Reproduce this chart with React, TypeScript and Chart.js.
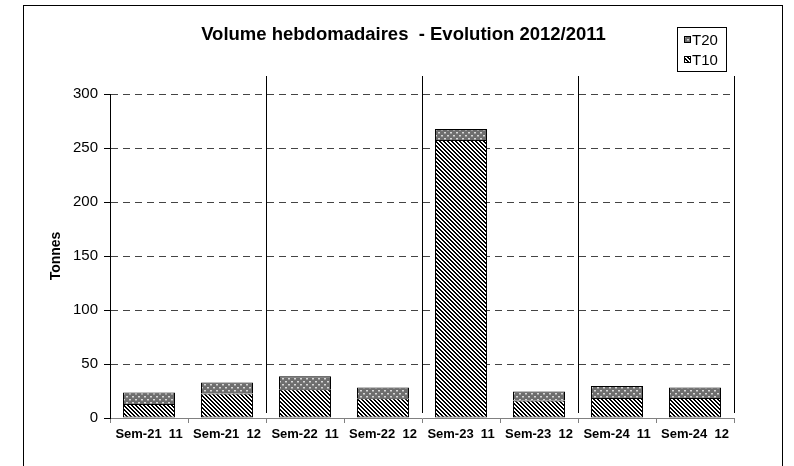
import React, { useEffect, useRef } from "react";
import { Chart, registerables } from "chart.js";

Chart.register(...registerables);

const categories = [
  "Sem-21  11",
  "Sem-21  12",
  "Sem-22  11",
  "Sem-22  12",
  "Sem-23  11",
  "Sem-23  12",
  "Sem-24  11",
  "Sem-24  12",
];
const t10Values = [13, 22.6, 26.6, 18.3, 257.4, 16.1, 18.6, 18.6];
const t20Values = [10.5, 10.2, 12, 9.9, 10.2, 8.4, 11.1, 9.6];
const yMin = 0;
const yMax = 300;
const yStep = 50;
const separatorBoundaries = [2, 4, 6, 8];
const titleText = "Volume hebdomadaires  - Evolution 2012/2011";
const yTitle = "Tonnes";

const FONT = '"Liberation Sans", Arial, Helvetica, sans-serif';

function makeHatch(ctx: CanvasRenderingContext2D): CanvasPattern {
  const c = document.createElement("canvas");
  c.width = 4;
  c.height = 4;
  const g = c.getContext("2d")!;
  g.fillStyle = "#ffffff";
  g.fillRect(0, 0, 4, 4);
  g.fillStyle = "#000000";
  for (let y = 0; y < 4; y++)
    for (let x = 0; x < 4; x++)
      if ((((x - y) % 4) + 4) % 4 < 2) g.fillRect(x, y, 1, 1);
  return ctx.createPattern(c, "repeat")!;
}

function makeDots(ctx: CanvasRenderingContext2D): CanvasPattern {
  const c = document.createElement("canvas");
  c.width = 6;
  c.height = 6;
  const g = c.getContext("2d")!;
  g.fillStyle = "#6e6e6e";
  g.fillRect(0, 0, 6, 6);
  g.fillStyle = "#d8d8d8";
  g.fillRect(1, 1, 2, 1);
  g.fillRect(4, 4, 2, 1);
  g.fillStyle = "#a0a0a0";
  g.fillRect(1, 2, 2, 1);
  g.fillRect(4, 5, 2, 1);
  return ctx.createPattern(c, "repeat")!;
}

const framePlugin = {
  id: "frame",
  beforeDraw(chart: any) {
    const ctx = chart.ctx as CanvasRenderingContext2D;
    ctx.save();
    ctx.fillStyle = "#ffffff";
    ctx.fillRect(0, 0, chart.width, chart.height);
    ctx.strokeStyle = "#000000";
    ctx.lineWidth = 1;
    ctx.strokeRect(0.5, 0.5, chart.width - 2, chart.height + 40);
    ctx.restore();
  },
};

const separatorPlugin = {
  id: "separators",
  afterDatasetsDraw(chart: any) {
    const xs = chart.scales.x;
    const { top, bottom } = chart.chartArea;
    const step = xs.getPixelForValue(1) - xs.getPixelForValue(0);
    const ctx = chart.ctx as CanvasRenderingContext2D;
    ctx.save();
    ctx.strokeStyle = "#000000";
    ctx.lineWidth = 1;
    separatorBoundaries.forEach((b) => {
      const x = Math.round(xs.getPixelForValue(b - 1) + step / 2) + 0.5;
      ctx.beginPath();
      ctx.moveTo(x, top - 18);
      ctx.lineTo(x, bottom - 5);
      ctx.stroke();
    });
    ctx.restore();
  },
};

const legendPlugin = {
  id: "boxLegend",
  afterDraw(chart: any) {
    const ctx = chart.ctx as CanvasRenderingContext2D;
    const x0 = 654;
    const y0 = 22;
    const w = 49;
    const h = 44;
    ctx.save();
    ctx.strokeStyle = "#000000";
    ctx.lineWidth = 1;
    ctx.fillStyle = "#ffffff";
    ctx.fillRect(x0, y0, w, h);
    ctx.strokeRect(x0 + 0.5, y0 + 0.5, w, h);
    const items = [...chart.data.datasets].reverse();
    items.forEach((ds: any, i: number) => {
      const cy = y0 + 13 + i * 20;
      ctx.fillStyle = ds.backgroundColor;
      ctx.fillRect(x0 + 7, cy - 4, 7, 7);
      ctx.strokeStyle = "#000000";
      ctx.strokeRect(x0 + 7.5, cy - 3.5, 6, 6);
      ctx.fillStyle = "#000000";
      ctx.font = `15px ${FONT}`;
      ctx.textBaseline = "middle";
      ctx.textAlign = "left";
      ctx.fillText(ds.label, x0 + 15, cy + 1);
    });
    ctx.restore();
  },
};

export default function App() {
  const ref = useRef<HTMLCanvasElement | null>(null);

  useEffect(() => {
    const canvas = ref.current!;
    const ctx = canvas.getContext("2d")!;
    const hatch = makeHatch(ctx);
    const dots = makeDots(ctx);

    const chart = new Chart(canvas, {
      type: "bar",
      data: {
        labels: categories,
        datasets: [
          {
            label: "T10",
            data: t10Values,
            backgroundColor: hatch as any,
            borderColor: "#000000",
            borderWidth: 1,
            borderSkipped: false,
            categoryPercentage: 1,
            barPercentage: 0.667,
          },
          {
            label: "T20",
            data: t20Values,
            backgroundColor: dots as any,
            borderColor: "#000000",
            borderWidth: 1,
            borderSkipped: "bottom",
            categoryPercentage: 1,
            barPercentage: 0.667,
          },
        ],
      },
      options: {
        responsive: false,
        animation: false,
        events: [],
        layout: { padding: { left: 0, right: 0, top: 0, bottom: 0 } },
        plugins: {
          legend: { display: false },
          tooltip: { enabled: false },
          title: {
            display: true,
            text: titleText,
            color: "#000000",
            font: { family: FONT, size: 18.5, weight: "bold" },
            padding: { top: 19, bottom: 47.8 },
          },
        },
        scales: {
          x: {
            stacked: true,
            grid: {
              display: true,
              offset: true,
              drawOnChartArea: false,
              drawTicks: true,
              tickLength: 5,
              tickColor: "#808080",
            },
            border: { display: true, color: "#808080", width: 1 },
            ticks: {
              color: "#000000",
              font: { family: FONT, size: 13, weight: "bold" },
              maxRotation: 0,
              minRotation: 0,
              autoSkip: false,
              padding: 4,
            },
            afterFit: (s: any) => {
              s.height = 48;
            },
          },
          y: {
            stacked: true,
            min: yMin,
            max: yMax,
            ticks: {
              stepSize: yStep,
              color: "#000000",
              font: { family: FONT, size: 15 },
              padding: 6,
            },
            grid: {
              color: (c: any) => (c.tick && c.tick.value === 0 ? "rgba(0,0,0,0)" : "#444444"),
              tickColor: "#000000",
              tickLength: 6,
              lineWidth: 1,
            },
            border: { display: true, color: "#000000", width: 1, dash: [7, 5] },
            title: {
              display: true,
              text: yTitle,
              color: "#000000",
              font: { family: FONT, size: 14, weight: "bold" },
              padding: { top: 25, bottom: 0 },
            },
            afterFit: (s: any) => {
              s.width = 87;
            },
          },
          yRight: {
            position: "right",
            display: true,
            min: yMin,
            max: yMax,
            grid: { display: false, drawOnChartArea: false, drawTicks: false },
            border: { display: false },
            ticks: { display: false },
            afterFit: (s: any) => {
              s.width = 50;
            },
          },
        },
      },
      plugins: [framePlugin, separatorPlugin, legendPlugin],
    });

    return () => {
      chart.destroy();
    };
  }, []);

  return (
    <div style={{ position: "fixed", left: 23, top: 5, width: 761, height: 461 }}>
      <canvas ref={ref} width={761} height={461} style={{ display: "block" }} />
    </div>
  );
}
